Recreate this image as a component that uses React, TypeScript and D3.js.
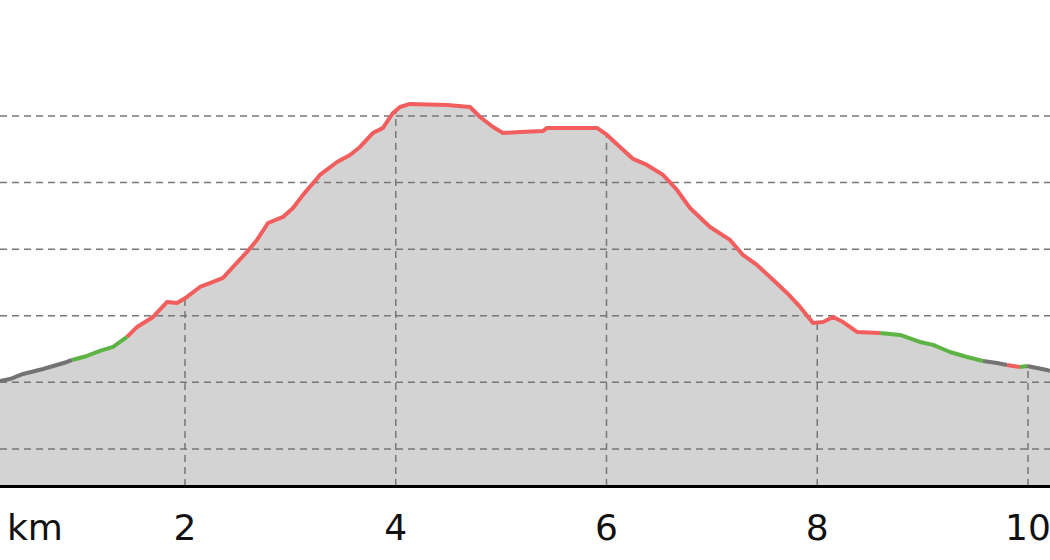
import * as d3 from "d3";

// distance along the route (km) and elevation (m)
const distKm = [
  0.244, 0.339, 0.463, 0.653, 0.88, 0.928, 1.07, 1.193, 1.317, 1.45, 1.545, 1.697, 1.829, 1.924, 2.019,
  2.142, 2.266, 2.361, 2.455, 2.588, 2.683, 2.788, 2.93, 3.025, 3.12, 3.281, 3.443, 3.566, 3.661, 3.784,
  3.879, 3.974, 4.04, 4.135, 4.487, 4.705, 4.8, 4.923, 5.018, 5.179, 5.398, 5.435, 5.91, 6.005, 6.128,
  6.252, 6.384, 6.536, 6.669, 6.792, 6.982, 7.172, 7.295, 7.428, 7.552, 7.713, 7.837, 7.96, 8.055, 8.15,
  8.245, 8.377, 8.596, 8.786, 8.975, 9.099, 9.26, 9.421, 9.573, 9.706, 9.801, 9.924, 9.991, 10.18, 10.209,
];
const elevM = [
  251.0, 252.5, 256.3, 260.0, 265.3, 266.8, 269.8, 273.6, 276.6, 284.1, 291.6, 299.1, 310.3, 309.6, 314.1,
  321.6, 325.4, 328.4, 336.6, 347.9, 356.9, 369.6, 374.2, 380.9, 390.7, 405.7, 415.4, 420.7, 426.7, 437.2,
  441.0, 452.2, 456.7, 459.0, 458.2, 456.7, 449.2, 441.7, 437.2, 438.0, 438.7, 441.0, 441.0, 435.7, 426.7,
  417.7, 413.2, 405.7, 394.4, 380.9, 366.6, 356.9, 345.6, 338.1, 329.1, 317.1, 306.6, 294.6, 295.3, 299.1,
  295.3, 287.8, 287.1, 285.6, 280.3, 278.1, 272.8, 269.0, 266.0, 264.5, 263.0, 261.5, 262.3, 259.3, 258.5,
];

// where the grade colour changes, and the class of each run
const gradeBreaks = [0.928, 1.45, 8.596, 9.573, 9.801, 9.924, 9.991];
const gradeClasses = ["flat", "climb", "steep", "climb", "flat", "steep", "climb", "flat"];
const gradeColors: Record<string, string> = { flat: "#737373", climb: "#5db445", steep: "#f25d5d" };

const xTicks = [2, 4, 6, 8, 10];
const yGrid = [200, 250, 300, 350, 400, 450];

export default function App() {
  const width = 1050;
  const height = 560;
  const baseY = 486;

  const x = d3.scaleLinear().domain([0, 10]).range([-25.75, 1028]);
  const y = d3.scaleLinear().domain([172.2, 537]).range([baseY, 0]);

  const pts = distKm.map((d, i) => ({ d, e: elevM[i] }));

  const area = d3.area<any>()
    .x((p) => x(p.d))
    .y0(baseY)
    .y1((p) => y(p.e));

  const line = d3.line<any>()
    .x((p) => x(p.d))
    .y((p) => y(p.e));

  const classOf = (d: number) => gradeClasses[d3.bisectRight(gradeBreaks, d + 1e-9)];

  // group consecutive segments by grade class
  const runs: { cls: string; pts: any[] }[] = [];
  for (let i = 0; i < pts.length - 1; i++) {
    const cls = classOf(pts[i].d);
    const last = runs[runs.length - 1];
    if (last && last.cls === cls) last.pts.push(pts[i + 1]);
    else runs.push({ cls, pts: [pts[i], pts[i + 1]] });
  }

  const elevAt = (d: number) => {
    const i = d3.bisector((p: any) => p.d).left(pts, d);
    if (i <= 0) return pts[0].e;
    if (i >= pts.length) return pts[pts.length - 1].e;
    const a = pts[i - 1], b = pts[i];
    return a.e + ((d - a.d) / (b.d - a.d)) * (b.e - a.e);
  };

  const gridColor = "#777";
  const font = "'DejaVu Sans', Verdana, sans-serif";

  return (
    <svg
      width={width}
      height={height}
      style={{ position: "absolute", left: 0, top: 0, background: "#fff" }}
    >
      <path d={area(pts) || ""} fill="#d3d3d3" />

      {yGrid.map((v) => (
        <line key={v} x1={0} x2={width} y1={y(v)} y2={y(v)}
          stroke={gridColor} strokeWidth={1.5} strokeDasharray="7,5" />
      ))}

      {xTicks.map((t) => (
        <line key={t} x1={x(t)} x2={x(t)} y1={baseY} y2={y(elevAt(t))}
          stroke={gridColor} strokeWidth={1.5} strokeDasharray="7,5" />
      ))}

      {runs.map((r, i) => (
        <path key={i} d={line(r.pts) || ""} fill="none" stroke={gradeColors[r.cls]}
          strokeWidth={4} strokeLinejoin="round" strokeLinecap="butt" />
      ))}

      <line x1={0} x2={width} y1={baseY + 0.5} y2={baseY + 0.5} stroke="#000" strokeWidth={3} />

      <text x={7} y={540} fontSize={36} fontFamily={font} fill="#111">km</text>
      {xTicks.map((t) => (
        <text key={t} x={x(t)} y={540} fontSize={36} fontFamily={font} fill="#111" textAnchor="middle">
          {t}
        </text>
      ))}
    </svg>
  );
}
